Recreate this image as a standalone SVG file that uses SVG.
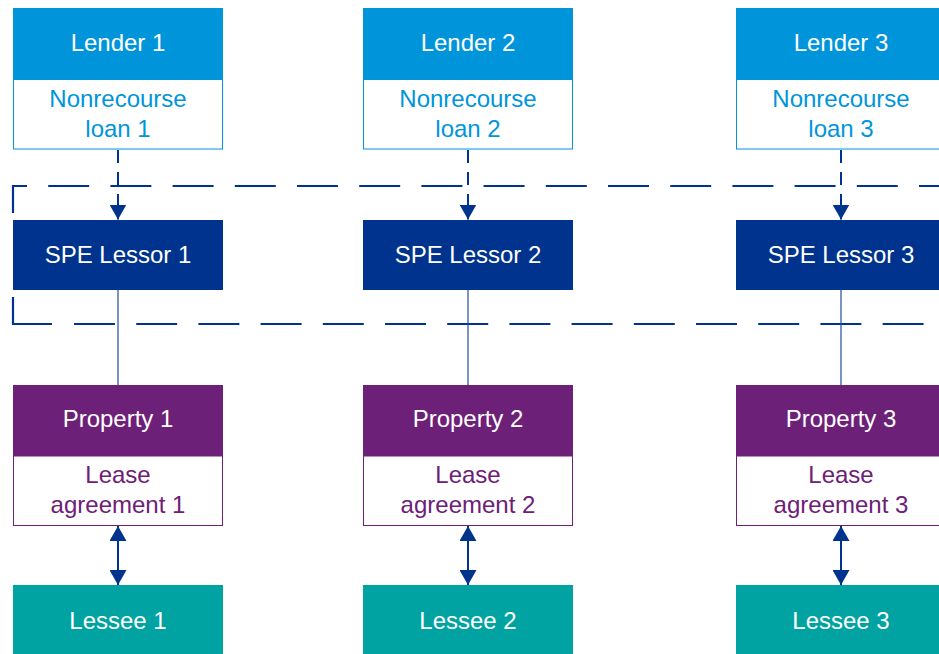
<svg xmlns="http://www.w3.org/2000/svg" width="939" height="654" viewBox="0 0 939 654">
<style>
text{font-family:"Liberation Sans",Arial,sans-serif;font-size:24px;text-anchor:middle}
.w{fill:#ffffff}
.hdrL{fill:#0095DA}
.subL{fill:#ffffff;stroke:#0095DA;stroke-width:1}
.tL{fill:#0095DA}
.spe{fill:#00338D}
.hdrP{fill:#6D2077}
.subP{fill:#ffffff;stroke:#6D2077;stroke-width:1}
.tP{fill:#6D2077}
.les{fill:#00A3A1}
.bound{fill:none;stroke:#00338D;stroke-width:2.2}
.dc{fill:none;stroke:#00338D;stroke-width:2;stroke-dasharray:13 9}
.sc{fill:none;stroke:#1F4C9E;stroke-width:1.2}
.da{fill:none;stroke:#00338D;stroke-width:2}
</style>
<defs>
<marker id="ah" viewBox="0 0 15 17" refX="15" refY="8.5" markerWidth="15" markerHeight="17" markerUnits="userSpaceOnUse" orient="auto-start-reverse">
<path d="M0,0 L15,8.5 L0,17 z" fill="#00338D"/>
</marker>
</defs>
<rect width="939" height="654" fill="#ffffff"/>
<g id="boundary">
<path class="bound" d="M13,213 V186 H960" stroke-dasharray="41 21.2"/>
<path class="bound" d="M13,297 V324 H52"/>
<path class="bound" d="M74,324 H960" stroke-dasharray="41 21.2"/>
</g>
<g id="connectors">
<path class="dc" d="M118,150 V207"/>
<path class="dc" d="M468,150 V207"/>
<path class="dc" d="M841,150 V207"/>
<path class="da" d="M118,200 V219.5" marker-end="url(#ah)"/>
<path class="da" d="M468,200 V219.5" marker-end="url(#ah)"/>
<path class="da" d="M841,200 V219.5" marker-end="url(#ah)"/>
<path class="sc" d="M118,290 V385"/>
<path class="sc" d="M468,290 V385"/>
<path class="sc" d="M841,290 V385"/>
<path class="da" d="M118,526 V585" marker-start="url(#ah)" marker-end="url(#ah)"/>
<path class="da" d="M468,526 V585" marker-start="url(#ah)" marker-end="url(#ah)"/>
<path class="da" d="M841,526 V585" marker-start="url(#ah)" marker-end="url(#ah)"/>
</g>
<g id="lender1">
<rect class="hdrL" x="13" y="8" width="210" height="71"/>
<rect class="subL" x="13.5" y="79.5" width="209" height="69.5"/>
<text class="w" x="118" y="51">Lender 1</text>
<text class="tL" x="118" y="107">Nonrecourse</text>
<text class="tL" x="118" y="137">loan 1</text>
</g>
<g id="lender2">
<rect class="hdrL" x="363" y="8" width="210" height="71"/>
<rect class="subL" x="363.5" y="79.5" width="209" height="69.5"/>
<text class="w" x="468" y="51">Lender 2</text>
<text class="tL" x="468" y="107">Nonrecourse</text>
<text class="tL" x="468" y="137">loan 2</text>
</g>
<g id="lender3">
<rect class="hdrL" x="736" y="8" width="210" height="71"/>
<rect class="subL" x="736.5" y="79.5" width="209" height="69.5"/>
<text class="w" x="841" y="51">Lender 3</text>
<text class="tL" x="841" y="107">Nonrecourse</text>
<text class="tL" x="841" y="137">loan 3</text>
</g>
<g id="spe1">
<rect class="spe" x="13" y="220" width="210" height="70"/>
<text class="w" x="118" y="263">SPE Lessor 1</text>
</g>
<g id="spe2">
<rect class="spe" x="363" y="220" width="210" height="70"/>
<text class="w" x="468" y="263">SPE Lessor 2</text>
</g>
<g id="spe3">
<rect class="spe" x="736" y="220" width="210" height="70"/>
<text class="w" x="841" y="263">SPE Lessor 3</text>
</g>
<g id="property1">
<rect class="hdrP" x="13" y="385" width="210" height="71"/>
<rect class="subP" x="13.5" y="456" width="209" height="69.5"/>
<text class="w" x="118" y="427">Property 1</text>
<text class="tP" x="118" y="483">Lease</text>
<text class="tP" x="118" y="513">agreement 1</text>
</g>
<g id="property2">
<rect class="hdrP" x="363" y="385" width="210" height="71"/>
<rect class="subP" x="363.5" y="456" width="209" height="69.5"/>
<text class="w" x="468" y="427">Property 2</text>
<text class="tP" x="468" y="483">Lease</text>
<text class="tP" x="468" y="513">agreement 2</text>
</g>
<g id="property3">
<rect class="hdrP" x="736" y="385" width="210" height="71"/>
<rect class="subP" x="736.5" y="456" width="209" height="69.5"/>
<text class="w" x="841" y="427">Property 3</text>
<text class="tP" x="841" y="483">Lease</text>
<text class="tP" x="841" y="513">agreement 3</text>
</g>
<g id="lessee1">
<rect class="les" x="13" y="585" width="210" height="70"/>
<text class="w" x="118" y="629">Lessee 1</text>
</g>
<g id="lessee2">
<rect class="les" x="363" y="585" width="210" height="70"/>
<text class="w" x="468" y="629">Lessee 2</text>
</g>
<g id="lessee3">
<rect class="les" x="736" y="585" width="210" height="70"/>
<text class="w" x="841" y="629">Lessee 3</text>
</g>
</svg>
